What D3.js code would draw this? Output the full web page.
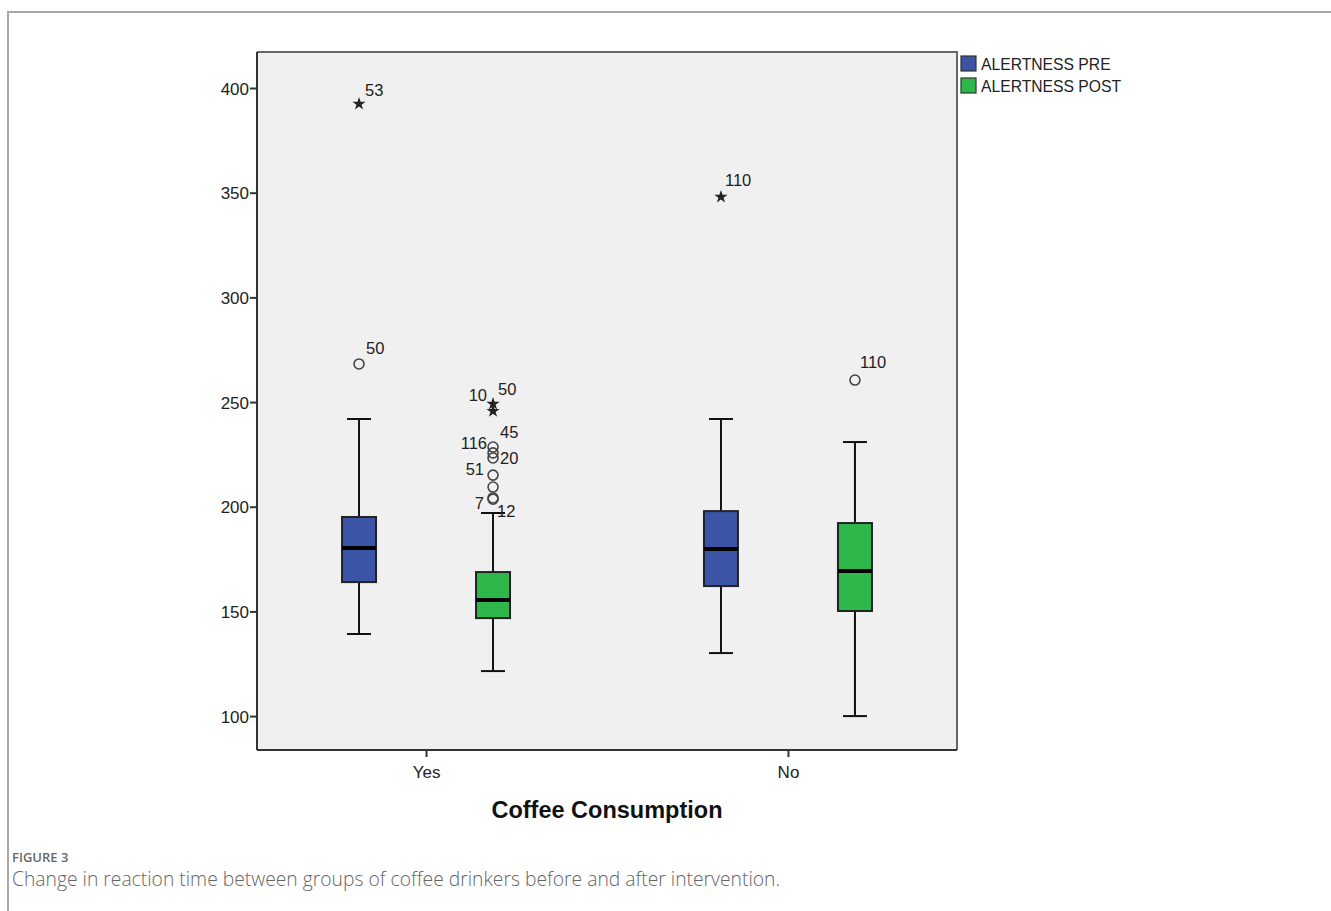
<!DOCTYPE html>
<html lang="en">
<head>
<meta charset="UTF-8">
<title>Coffee Consumption Boxplot</title>
<script src="https://cdn.jsdelivr.net/npm/d3@7"></script>
<style>
	body { margin: 0; background: #fff; }
	text { font-family: "Liberation Sans", Arial, sans-serif; }
	.caption { font-family: "Open Sans", "Noto Sans", sans-serif; fill: #666; }
</style>
</head>
<body>
<svg id="chart" width="1331" height="911"></svg>
<script>
// data, one entry per group: [ALERTNESS PRE, ALERTNESS POST]
const groups = ["Yes", "No"];
const series = ["ALERTNESS PRE", "ALERTNESS POST"];
const lowWhisker  = [[139.2, 121.5], [130.1, 100.0]];
const q1          = [[164.0, 146.8], [162.1, 150.2]];
const median      = [[180.3, 155.4], [179.8, 169.3]];
const q3          = [[195.1, 168.8], [197.9, 192.2]];
const highWhisker = [[241.9, 197.0], [241.9, 230.9]];
const yTicks = [100, 150, 200, 250, 300, 350, 400];

// outliers: group, series, value, case id, kind
const outliers = [
	["Yes", "ALERTNESS PRE", 392.4, "53", "extreme"],
	["Yes", "ALERTNESS PRE", 268.2, "50", "outlier"],
	["Yes", "ALERTNESS POST", 249.1, "50", "extreme"],
	["Yes", "ALERTNESS POST", 245.7, "10", "extreme"],
	["Yes", "ALERTNESS POST", 228.5, "116", "outlier"],
	["Yes", "ALERTNESS POST", 225.7, "45", "outlier"],
	["Yes", "ALERTNESS POST", 223.3, "20", "outlier"],
	["Yes", "ALERTNESS POST", 215.1, "51", "outlier"],
	["Yes", "ALERTNESS POST", 209.4, "", "outlier"],
	["Yes", "ALERTNESS POST", 204.2, "7", "outlier"],
	["Yes", "ALERTNESS POST", 203.6, "12", "outlier"],
	["No", "ALERTNESS PRE", 348.0, "110", "extreme"],
	["No", "ALERTNESS POST", 260.5, "110", "outlier"]
];

// label placement for each outlier (same order): [dx, dy, anchor]
const labelPos = [
	[6, -8, "start"], [7, -10, "start"],
	[5, -9, "start"], [-6, -10, "end"],
	[-6, 2, "end"], [7, -15, "start"], [7, 6, "start"],
	[-9, 0, "end"], [0, 0, "start"], [-9, 11, "end"], [4, 18, "start"],
	[4, -11, "start"], [5, -12, "start"]
];

const colors = {"ALERTNESS PRE": "#3b54a6", "ALERTNESS POST": "#2eb84c"};

const svg = d3.select("#chart");
const margin = {left: 257, right: 374, top: 52, bottom: 161};
const W = 1331, H = 911;
const x0 = margin.left, x1 = W - margin.right, y0 = margin.top, y1 = H - margin.bottom;

// figure frame
svg.append("path")
	.attr("d", `M8,911 V12 H1331`)
	.attr("fill", "none").attr("stroke", "#a8a8a8").attr("stroke-width", 2);

const x = d3.scalePoint().domain(groups).range([x0, x1]).padding(0.467);
const xs = d3.scalePoint().domain(series).range([-67, 67]);
const y = d3.scaleLinear().domain([83.8, 417.2]).range([y1, y0]);

// plot background
svg.append("rect")
	.attr("x", x0).attr("y", y0).attr("width", x1 - x0).attr("height", y1 - y0)
	.attr("fill", "#f0f0f0");
svg.append("path")
	.attr("d", `M${x0},${y0} H${x1} V${y1}`)
	.attr("fill", "none").attr("stroke", "#666").attr("stroke-width", 2);

// axes
const yAxis = svg.append("g")
	.attr("transform", `translate(${x0},0)`)
	.call(d3.axisLeft(y).tickValues(yTicks).tickSizeInner(7).tickSizeOuter(0).tickPadding(1));
const xAxis = svg.append("g")
	.attr("transform", `translate(0,${y1})`)
	.call(d3.axisBottom(x).tickSizeInner(7).tickSizeOuter(0).tickPadding(9));
[yAxis, xAxis].forEach(a => {
	a.select(".domain").attr("stroke", "#333").attr("stroke-width", 2);
	a.selectAll(".tick line").attr("stroke", "#333").attr("stroke-width", 2);
	a.selectAll(".tick text").attr("fill", "#222").style("font-size", "17px")
		.style("font-family", "'Liberation Sans', Arial, sans-serif");
});
yAxis.selectAll(".tick text").attr("dy", "0.36em");
yAxis.select(".domain").attr("d", `M0,${y0}V${y1}`);
xAxis.select(".domain").attr("d", `M${x0},0H${x1}`);

// boxes
const boxW = 34, capW = 24;
const boxes = [];
groups.forEach((g, gi) => series.forEach((s, si) => boxes.push({
	g, s, lo: lowWhisker[gi][si], q1: q1[gi][si], med: median[gi][si],
	q3: q3[gi][si], hi: highWhisker[gi][si]
})));

const bx = svg.append("g").selectAll("g").data(boxes).join("g")
	.attr("transform", d => `translate(${x(d.g) + xs(d.s)},0)`);
bx.append("line")
	.attr("y1", d => y(d.hi)).attr("y2", d => y(d.lo))
	.attr("stroke", "#111").attr("stroke-width", 2);
bx.selectAll("line.cap").data(d => [d.hi, d.lo]).join("line")
	.attr("class", "cap")
	.attr("x1", -capW / 2).attr("x2", capW / 2)
	.attr("y1", v => y(v)).attr("y2", v => y(v))
	.attr("stroke", "#111").attr("stroke-width", 2);
bx.append("rect")
	.attr("x", -boxW / 2).attr("width", boxW)
	.attr("y", d => y(d.q3)).attr("height", d => y(d.q1) - y(d.q3))
	.attr("fill", d => colors[d.s]).attr("stroke", "#222").attr("stroke-width", 2);
bx.append("line")
	.attr("x1", -boxW / 2).attr("x2", boxW / 2)
	.attr("y1", d => y(d.med)).attr("y2", d => y(d.med))
	.attr("stroke", "#000").attr("stroke-width", 4);

// outliers
const pts = outliers.map((o, i) => ({
	g: o[0], s: o[1], v: o[2], id: o[3], kind: o[4], pos: labelPos[i]
}));
const op = svg.append("g").selectAll("g").data(pts).join("g")
	.attr("transform", d => `translate(${x(d.g) + xs(d.s)},${y(d.v)})`);
op.filter(d => d.kind === "outlier").append("circle")
	.attr("r", 5).attr("fill", "none").attr("stroke", "#444").attr("stroke-width", 1.6);
op.filter(d => d.kind === "extreme").append("path")
	.attr("d", d3.symbol(d3.symbolStar, 55))
	.attr("fill", "#222");
op.append("text")
	.attr("x", d => d.pos[0]).attr("y", d => d.pos[1])
	.attr("text-anchor", d => d.pos[2])
	.style("font-size", "16.5px").attr("fill", "#222")
	.text(d => d.id);

// axis title
svg.append("text")
	.attr("x", (x0 + x1) / 2).attr("y", 818)
	.attr("text-anchor", "middle")
	.style("font-size", "23.5px").style("font-weight", "bold").attr("fill", "#111")
	.text("Coffee Consumption");

// legend
const lg = svg.append("g").selectAll("g").data(series).join("g")
	.attr("transform", (d, i) => `translate(961,${56 + i * 22})`);
lg.append("rect").attr("width", 15).attr("height", 15)
	.attr("fill", d => colors[d]).attr("stroke", "#333").attr("stroke-width", 1.2);
lg.append("text").attr("x", 20).attr("y", 14)
	.style("font-size", "15.7px").attr("fill", "#222")
	.text(d => d);

// caption
svg.append("text").attr("class", "caption")
	.attr("x", 12).attr("y", 862)
	.style("font-size", "13px").style("font-weight", 600).attr("fill", "#777")
	.text("FIGURE 3");
svg.append("text").attr("class", "caption")
	.attr("x", 12).attr("y", 886)
	.style("font-size", "19.3px").style("font-weight", 300)
	.text("Change in reaction time between groups of coffee drinkers before and after intervention.");
</script>
</body>
</html>
